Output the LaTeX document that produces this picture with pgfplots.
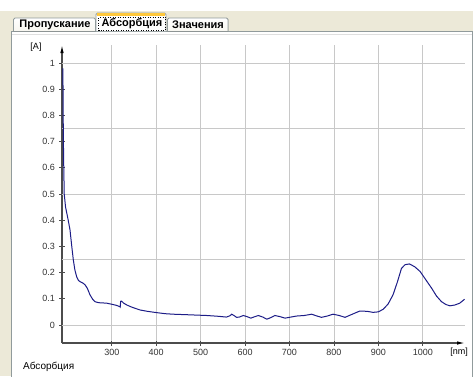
\documentclass[border=0pt]{standalone}
\usepackage{pgfplots}
\pgfplotsset{compat=1.18}
\usepackage{fontspec}
\setmainfont{Liberation Sans}
\usetikzlibrary{arrows.meta}

\definecolor{xpbeige}{RGB}{236,233,216}
\definecolor{xpborder}{RGB}{145,155,156}
\definecolor{xporange}{RGB}{255,200,60}
\definecolor{gridgray}{RGB}{200,200,200}
\definecolor{curveblue}{RGB}{28,28,135}

\pgfplotstableread{
lambda A
190 0.98
191 0.72
192 0.60
193 0.50
196 0.45
202 0.40
206 0.363
210 0.30
213.5 0.248
217 0.21
221 0.184
225 0.170
229 0.165
235 0.160
240 0.153
245 0.140
251 0.115
257 0.098
262 0.089
270 0.085
280 0.084
289 0.083
300 0.079
310 0.075
318 0.070
319 0.068
320 0.090
322 0.091
327 0.083
334 0.076
345 0.068
355 0.062
364 0.057
380 0.052
401 0.047
420 0.043
438 0.041
470 0.039
514 0.036
540 0.033
558 0.030
566 0.035
570 0.041
575 0.036
581 0.029
587 0.030
596 0.036
604 0.032
613 0.026
621 0.031
630 0.036
640 0.030
649 0.022
658 0.028
667 0.036
678 0.032
690 0.026
703 0.030
716 0.034
733 0.036
750 0.041
760 0.035
772 0.029
785 0.034
798 0.041
812 0.036
825 0.029
840 0.040
858 0.053
875 0.052
888 0.048
900 0.050
911 0.060
922 0.080
933 0.115
943 0.165
952 0.216
960 0.230
970 0.233
982 0.222
994 0.204
1007 0.172
1020 0.140
1031 0.110
1042 0.089
1052 0.078
1061 0.073
1072 0.076
1083 0.083
1094 0.098
}\absorbance

\begin{document}
\begin{tikzpicture}[x=1pt,y=1pt]
\fill[white] (0pt,0pt) rectangle (473pt,376pt);
% window chrome
\fill[xpbeige] (0pt,345pt) rectangle (473pt,365pt);
\fill[xpbeige] (0pt,0pt) rectangle (11.5pt,365pt);
\filldraw[fill=white, draw=xpborder, line width=1pt] (11.5pt,-2pt) rectangle (472.5pt,345pt);
\draw[gray!25, line width=1pt] (12pt,341.5pt) -- (472pt,341.5pt);
% tabs
\filldraw[top color=white, bottom color=xpbeige!40, draw=xpborder, line width=0.8pt, rounded corners=1.5pt]
  (13.5pt,345pt) -- (13.5pt,358pt) -- (95.5pt,358pt) -- (95.5pt,345pt);
\filldraw[fill=white, draw=xpborder, line width=0.8pt, rounded corners=1.5pt]
  (96pt,345pt) -- (96pt,363pt) -- (166pt,363pt) -- (166pt,345pt);
\fill[xporange] (96.8pt,360.5pt) rectangle (165.2pt,363pt);
\draw[black, dotted, line width=0.5pt] (98.5pt,345.5pt) rectangle (165.2pt,359pt);
\filldraw[top color=white, bottom color=xpbeige!40, draw=xpborder, line width=0.8pt, rounded corners=1.5pt]
  (167.5pt,345pt) -- (167.5pt,358pt) -- (228pt,358pt) -- (228pt,345pt);
\node[font=\fontsize{11}{13}\selectfont\bfseries, inner sep=0] at (55pt,351.5pt) {Пропускание};
\node[font=\fontsize{11}{13}\selectfont\bfseries, inner sep=0] at (132pt,352pt) {Абсорбция};
\node[font=\fontsize{11}{13}\selectfont\bfseries, inner sep=0] at (198pt,351.5pt) {Значения};
% status caption
\node[font=\fontsize{10}{12}\selectfont, anchor=west, inner sep=0] at (23pt,9pt) {Абсорбция};

\begin{axis}[
  at={(62pt,33pt)}, anchor=south west,
  scale only axis, width=403pt, height=298pt,
  xmin=188, xmax=1095, ymin=-0.069, ymax=1.069,
  axis x line=bottom, axis y line=left,
  axis line style={gray!60!black, line width=1.1pt},
  x axis line style={-{Latex[black,length=8pt,width=3.5pt]}},
  y axis line style={-{Latex[black,length=8pt,width=3.5pt]}},
  xtick={300,400,...,1000},
  xticklabels={300,400,500,600,700,800,900,1000},
  ytick={0,0.1,...,1.01},
  extra y ticks={0,0.25,0.5,0.75,1},
  extra y tick labels={},
  extra y tick style={ymajorgrids=true, major tick length=0pt},
  xmajorgrids=true,
  grid style={gridgray, line width=0.8pt},
  tick align=center, major tick length=5pt,
  tick style={gray!60!black, line width=0.8pt},
  ticklabel style={font=\fontsize{9}{10}\selectfont, text=black!80},
  /pgf/number format/assume math mode=true,
  yticklabel style={/pgf/number format/fixed, /pgf/number format/precision=1, xshift=-1pt},
  clip=false,
]
\addplot[curveblue, line width=1pt] table[x=lambda, y=A] {\absorbance};
\node[font=\fontsize{9}{10}\selectfont, inner sep=0] at (rel axis cs:0,1) [xshift=-26pt, yshift=-2pt] {[A]};
\node[font=\fontsize{9}{10}\selectfont, inner sep=0] at (rel axis cs:1,0) [xshift=-6pt, yshift=-9pt] {[nm]};
\end{axis}
\pgfresetboundingbox
\path[use as bounding box] (0pt,0pt) rectangle (473pt,376pt);
\end{tikzpicture}
\end{document}
